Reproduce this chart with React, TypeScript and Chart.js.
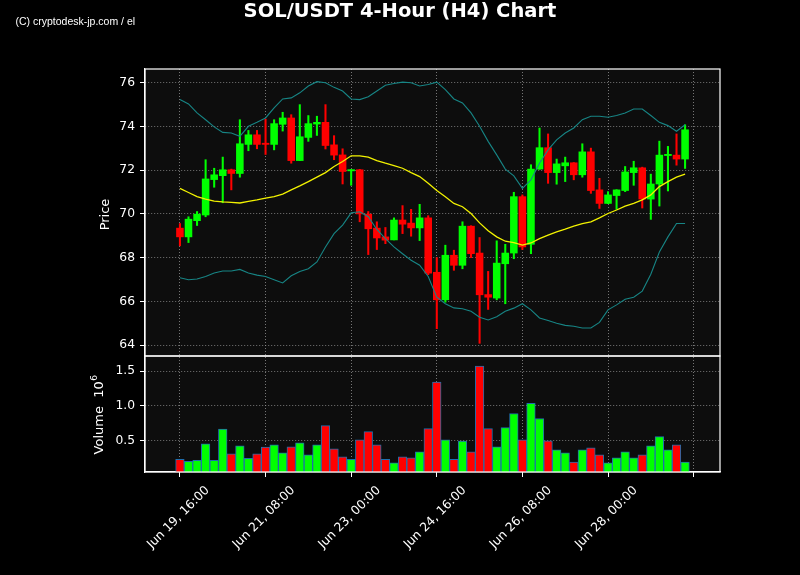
import React, { useEffect, useRef } from 'react';
import { Chart, registerables } from 'chart.js';

Chart.register(...registerables);

// ---- Data (SOL/USDT, 4-hour candles) ----
const OPEN = [
  69.35, 68.95, 69.69, 69.95, 71.57, 71.75, 72.02, 71.85, 73.18, 73.62,
  73.21, 73.18, 74.10, 74.39, 72.44, 73.50, 74.11, 74.19, 73.16, 72.70,
  71.97, 72.02, 69.99, 69.35, 68.95, 68.81, 69.72, 69.58, 69.36, 69.82,
  67.33, 66.07, 68.11, 67.65, 69.44, 68.21, 66.31, 66.15, 67.72, 68.21,
  70.79, 68.61, 72.05, 73.03, 71.89, 72.20, 72.34, 71.79, 72.84, 71.10,
  70.48, 70.84, 71.07, 71.89, 72.11, 70.68, 71.37, 72.67, 72.69, 72.51,
];
const HIGH = [
  69.56, 69.87, 70.11, 72.48, 72.09, 72.60, 72.05, 74.31, 73.82, 73.82,
  74.34, 74.31, 74.65, 74.54, 75.00, 74.50, 74.47, 75.00, 73.58, 72.98,
  72.03, 72.04, 70.11, 69.64, 69.38, 69.82, 70.38, 70.21, 70.44, 69.92,
  68.00, 68.57, 68.34, 69.64, 69.46, 68.92, 67.37, 68.77, 68.61, 70.99,
  70.87, 72.25, 73.93, 73.66, 72.51, 72.60, 72.35, 73.21, 73.01, 71.63,
  71.02, 71.11, 72.17, 72.41, 72.14, 71.82, 73.33, 73.09, 73.66, 74.08,
];
const LOW = [
  68.54, 68.69, 69.47, 69.87, 71.22, 70.51, 71.10, 71.68, 72.89, 72.98,
  72.72, 72.93, 73.79, 72.32, 72.44, 73.32, 73.59, 72.97, 72.48, 71.37,
  71.31, 69.64, 68.14, 68.37, 68.64, 68.81, 69.10, 68.98, 68.78, 67.22,
  64.75, 65.96, 67.42, 67.49, 68.00, 64.08, 65.63, 66.07, 65.89, 67.95,
  68.37, 68.18, 72.04, 71.40, 71.36, 71.48, 71.56, 71.68, 70.94, 70.25,
  70.47, 70.21, 71.02, 71.31, 70.27, 69.75, 70.36, 71.05, 72.23, 72.08,
];
const CLOSE = [
  68.95, 69.76, 69.99, 71.60, 71.79, 72.02, 71.85, 73.21, 73.62, 73.18,
  73.18, 74.13, 74.39, 72.44, 73.53, 74.13, 74.19, 73.13, 72.69, 71.94,
  72.02, 70.00, 69.32, 68.90, 68.80, 69.72, 69.53, 69.36, 69.82, 67.29,
  66.07, 68.11, 67.65, 69.44, 68.18, 66.30, 66.19, 67.75, 68.21, 70.79,
  68.49, 72.05, 73.03, 71.89, 72.29, 72.34, 71.79, 72.84, 71.07, 70.48,
  70.87, 71.10, 71.92, 72.11, 70.68, 71.37, 72.69, 72.69, 72.51, 73.85,
];
const VOLUME = [
  234000, 205000, 220000, 457000, 220000, 669000, 312000, 428000, 249000, 312000,
  408000, 442000, 326000, 413000, 471000, 297000, 442000, 717000, 384000, 268000,
  234000, 514000, 630000, 442000, 234000, 181000, 268000, 254000, 341000, 674000,
  1341000, 514000, 234000, 495000, 341000, 1572000, 674000, 413000, 688000, 891000,
  514000, 1036000, 819000, 500000, 370000, 326000, 195000, 370000, 399000, 297000,
  181000, 254000, 341000, 254000, 297000, 428000, 558000, 370000, 442000, 195000,
];
const SMA20 = [
  71.17, 70.98, 70.79, 70.68, 70.59, 70.55, 70.53, 70.50, 70.57, 70.64,
  70.72, 70.79, 70.91, 71.10, 71.28, 71.48, 71.68, 71.89, 72.17, 72.40,
  72.66, 72.66, 72.60, 72.44, 72.32, 72.21, 72.09, 71.89, 71.71, 71.40,
  71.07, 70.79, 70.48, 70.33, 70.02, 69.59, 69.23, 68.95, 68.75, 68.69,
  68.57, 68.67, 68.87, 69.03, 69.18, 69.30, 69.44, 69.56, 69.64, 69.82,
  70.02, 70.18, 70.36, 70.48, 70.64, 70.87, 71.25, 71.48, 71.68, 71.82,
];
const BB_UPPER = [
  75.23, 75.03, 74.62, 74.31, 73.98, 73.73, 73.70, 73.55, 74.01, 74.19,
  74.39, 74.85, 75.26, 75.31, 75.54, 75.85, 76.05, 76.00, 75.79, 75.62,
  75.26, 75.23, 75.36, 75.62, 75.89, 75.97, 76.03, 76.00, 75.85, 75.92,
  76.03, 75.69, 75.26, 75.08, 74.62, 74.01, 73.32, 72.70, 72.05, 71.74,
  71.17, 71.56, 72.32, 72.93, 73.39, 73.70, 73.93, 74.31, 74.47, 74.47,
  74.42, 74.50, 74.62, 74.80, 74.80, 74.50, 74.19, 74.04, 73.78, 74.08,
];
const BB_LOWER = [
  67.08, 66.99, 67.02, 67.14, 67.30, 67.39, 67.39, 67.46, 67.30, 67.20,
  67.14, 66.99, 66.84, 67.17, 67.37, 67.49, 67.80, 68.49, 69.10, 69.49,
  70.05, 70.10, 69.87, 69.29, 68.87, 68.49, 68.18, 67.88, 67.65, 67.14,
  66.19, 65.89, 65.70, 65.66, 65.55, 65.27, 65.15, 65.30, 65.55, 65.69,
  65.89, 65.61, 65.24, 65.12, 65.00, 64.90, 64.86, 64.78, 64.78, 65.04,
  65.61, 65.84, 66.10, 66.19, 66.47, 67.24, 68.26, 68.95, 69.56, 69.56,
];
const TICK_POS = [0, 10, 20, 30, 40, 50, 60];
const TICK_LABELS = ['Jun 19, 16:00', 'Jun 21, 08:00', 'Jun 23, 00:00', 'Jun 24, 16:00', 'Jun 26, 08:00', 'Jun 28, 00:00', ''];
const PRICE_TICKS = [64, 66, 68, 70, 72, 74, 76];
const VOL_TICKS = [500000, 1000000, 1500000];
const TITLE = 'SOL/USDT 4-Hour (H4) Chart';
const WATERMARK = '(C) cryptodesk-jp.com / el';

// ---- Styles ----
const GREEN = '#00ff00';
const RED = '#ff0000';
const SMA_COLOR = '#f2f200';
const BAND_COLOR = '#178585';
const VOL_EDGE = '#1f6fae';
const FIG_BG = '#000000';
const AX_BG = '#0d0d0d';
const GRID = 'rgba(160,160,160,0.8)';
const FONT = '"DejaVu Sans", sans-serif';

const decor = {
  id: 'decor',
  beforeDraw(chart: any) {
    const { ctx, chartArea: ca } = chart;
    ctx.save();
    ctx.fillStyle = FIG_BG;
    ctx.fillRect(0, 0, chart.width, chart.height);
    ctx.fillStyle = AX_BG;
    for (const id of ['y', 'yVol']) {
      const s = chart.scales[id];
      ctx.fillRect(ca.left, s.top, ca.right - ca.left, s.bottom - s.top);
    }
    ctx.restore();
  },
  afterDraw(chart: any) {
    const { ctx, chartArea: ca } = chart;
    ctx.save();
    // frames
    ctx.strokeStyle = '#ffffff';
    ctx.lineWidth = 1.2;
    for (const id of ['y', 'yVol']) {
      const s = chart.scales[id];
      ctx.strokeRect(ca.left, s.top, ca.right - ca.left, s.bottom - s.top);
    }
    ctx.fillStyle = '#ffffff';
    // title
    ctx.font = `bold 19.5px ${FONT}`;
    ctx.textAlign = 'center';
    ctx.textBaseline = 'alphabetic';
    ctx.fillText(TITLE, 400, 16.7);
    // watermark
    ctx.font = '10.5px "Liberation Sans", Arial, sans-serif';
    ctx.textAlign = 'left';
    ctx.fillText(WATERMARK, 15.5, 25);
    // x tick labels (rotated 45°, centred on tick)
    const xs = chart.scales.x;
    ctx.font = `12.3px ${FONT}`;
    ctx.textAlign = 'center';
    ctx.textBaseline = 'middle';
    TICK_POS.forEach((v, k) => {
      const label = TICK_LABELS[k];
      if (!label) return;
      const px = xs.getPixelForValue(v);
      ctx.save();
      ctx.translate(px - 1.5, 517.5);
      ctx.rotate(-Math.PI / 4);
      ctx.fillText(label, 0, 0);
      ctx.restore();
    });
    // y axis titles
    const py = chart.scales.y;
    ctx.font = `13px ${FONT}`;
    ctx.save();
    ctx.translate(109, (py.top + py.bottom) / 2 + 2);
    ctx.rotate(-Math.PI / 2);
    ctx.textAlign = 'center';
    ctx.textBaseline = 'alphabetic';
    ctx.fillText('Price', 0, 0);
    ctx.restore();

    const vy = chart.scales.yVol;
    const main = 'Volume  10';
    ctx.font = `13px ${FONT}`;
    const w1 = ctx.measureText(main).width;
    ctx.font = `9px ${FONT}`;
    const w2 = ctx.measureText('6').width;
    const total = w1 + w2;
    const cy = (vy.top + vy.bottom) / 2 + 1;
    ctx.save();
    ctx.translate(102.7, cy + total / 2);
    ctx.rotate(-Math.PI / 2);
    ctx.textAlign = 'left';
    ctx.textBaseline = 'alphabetic';
    ctx.font = `13px ${FONT}`;
    ctx.fillText(main, 0, 0);
    ctx.font = `9px ${FONT}`;
    ctx.fillText('6', w1 + 0.5, -5.5);
    ctx.restore();

    ctx.restore();
  },
};

export default function App() {
  const ref = useRef<HTMLCanvasElement>(null);
  useEffect(() => {
    document.body.style.margin = '0';
    document.body.style.background = '#000';
    const idx = OPEN.map((_, i) => i);
    const colors = idx.map((i) => (CLOSE[i] >= OPEN[i] ? GREEN : RED));

    const gridCommon = {
      color: GRID,
      lineWidth: 0.9,
      drawTicks: true,
      tickColor: '#ffffff',
      tickWidth: 1,
      tickBorderDash: [],
      offset: false,
    };

    const chart = new Chart(ref.current as HTMLCanvasElement, {
      type: 'bar',
      data: {
        datasets: [
          {
            type: 'line',
            label: 'SMA 20',
            data: idx.map((i) => ({ x: i, y: SMA20[i] })),
            borderColor: SMA_COLOR,
            borderWidth: 1.3,
            pointRadius: 0,
            tension: 0,
            yAxisID: 'y',
            xAxisID: 'x',
            order: 0,
          } as any,
          {
            type: 'line',
            label: 'BB Upper',
            data: idx.map((i) => ({ x: i, y: BB_UPPER[i] })),
            borderColor: BAND_COLOR,
            borderWidth: 1.1,
            pointRadius: 0,
            tension: 0,
            yAxisID: 'y',
            xAxisID: 'x',
            order: 1,
          } as any,
          {
            type: 'line',
            label: 'BB Lower',
            data: idx.map((i) => ({ x: i, y: BB_LOWER[i] })),
            borderColor: BAND_COLOR,
            borderWidth: 1.1,
            pointRadius: 0,
            tension: 0,
            yAxisID: 'y',
            xAxisID: 'x',
            order: 1,
          } as any,
          {
            type: 'bar',
            label: 'Body',
            data: idx.map((i) => ({ x: i, y: [OPEN[i], CLOSE[i]] })),
            backgroundColor: colors,
            borderWidth: 0,
            barThickness: 6.9,
            grouped: false,
            minBarLength: 1.2,
            yAxisID: 'y',
            xAxisID: 'x',
            order: 2,
          } as any,
          {
            type: 'bar',
            label: 'Wick',
            data: idx.map((i) => ({ x: i, y: [LOW[i], HIGH[i]] })),
            backgroundColor: colors,
            borderWidth: 0,
            barThickness: 1.4,
            grouped: false,
            yAxisID: 'y',
            xAxisID: 'x',
            order: 3,
          } as any,
          {
            type: 'bar',
            label: 'Volume',
            data: idx.map((i) => ({ x: i, y: VOLUME[i] })),
            backgroundColor: colors,
            borderColor: VOL_EDGE,
            borderWidth: 1,
            borderSkipped: false,
            barThickness: 8.6,
            grouped: false,
            yAxisID: 'yVol',
            xAxisID: 'x',
            order: 4,
          } as any,
        ],
      },
      options: {
        responsive: false,
        animation: false,
        devicePixelRatio: 1,
        layout: { padding: { top: 69, right: 80, left: 0, bottom: 0 } },
        plugins: {
          legend: { display: false },
          tooltip: { enabled: false },
          title: { display: false },
        },
        scales: {
          x: {
            type: 'linear',
            min: -4.08,
            max: 63.08,
            offset: false,
            afterBuildTicks: (s: any) => {
              s.ticks = TICK_POS.map((v) => ({ value: v }));
            },
            afterFit: (s: any) => {
              s.height = 103;
            },
            ticks: { display: false },
            grid: { ...gridCommon, tickLength: 5 },
            border: { display: true, color: '#ffffff', width: 1.2, dash: [1, 2] },
          },
          yVol: {
            type: 'linear',
            position: 'left',
            stack: 'main',
            stackWeight: 116,
            min: 51000,
            max: 1717000,
            beginAtZero: false,
            afterBuildTicks: (s: any) => {
              s.ticks = VOL_TICKS.map((v) => ({ value: v }));
            },
            afterFit: (s: any) => {
              s.width = 145;
            },
            ticks: {
              color: '#ffffff',
              font: { family: 'DejaVu Sans', size: 12.3 },
              padding: 5,
              callback: (v: any) => (Number(v) / 1e6).toFixed(1),
            },
            grid: { ...gridCommon, tickLength: 5 },
            border: { display: true, color: '#ffffff', width: 1.2, dash: [1, 2] },
          },
          y: {
            type: 'linear',
            position: 'left',
            stack: 'main',
            stackWeight: 287,
            min: 63.5,
            max: 76.63,
            beginAtZero: false,
            afterBuildTicks: (s: any) => {
              s.ticks = PRICE_TICKS.map((v) => ({ value: v }));
            },
            afterFit: (s: any) => {
              s.width = 145;
            },
            ticks: {
              color: '#ffffff',
              font: { family: 'DejaVu Sans', size: 12.3 },
              padding: 5,
              callback: (v: any) => String(v),
            },
            grid: { ...gridCommon, tickLength: 5 },
            border: { display: true, color: '#ffffff', width: 1.2, dash: [1, 2] },
          },
        } as any,
      },
      plugins: [decor],
    });
    return () => chart.destroy();
  }, []);

  return (
    <div style={{ width: 800, height: 575, background: '#000' }}>
      <canvas ref={ref} width={800} height={575} style={{ display: 'block' }} />
    </div>
  );
}
